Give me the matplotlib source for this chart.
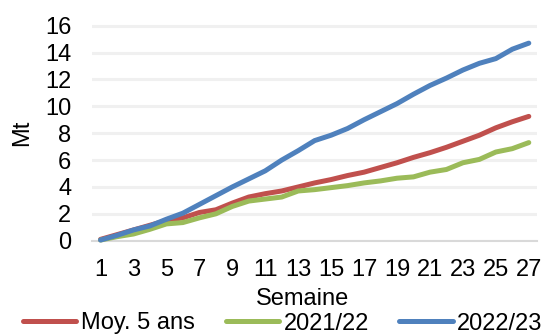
import matplotlib.pyplot as plt

plt.rcParams['font.family'] = ['Liberation Sans', 'DejaVu Sans']

# Cumulative weekly figures (Mt)
weeks = list(range(1, 28))
moy_5_ans = [0.1, 0.45, 0.8, 1.15, 1.5, 1.7, 2.1, 2.3, 2.8, 3.25, 3.5, 3.7,
             4.0, 4.3, 4.55, 4.85, 5.1, 5.45, 5.8, 6.2, 6.55, 6.95, 7.4,
             7.85, 8.4, 8.85, 9.25]
c2021_22 = [0.05, 0.3, 0.5, 0.85, 1.25, 1.35, 1.7, 2.0, 2.55, 2.95, 3.1, 3.25,
            3.7, 3.8, 3.95, 4.1, 4.3, 4.45, 4.65, 4.75, 5.1, 5.3, 5.8, 6.05,
            6.6, 6.85, 7.3]
c2022_23 = [0.05, 0.4, 0.8, 1.1, 1.6, 2.05, 2.7, 3.35, 4.0, 4.6, 5.2, 6.0,
            6.7, 7.45, 7.85, 8.35, 9.0, 9.6, 10.2, 10.9, 11.55, 12.1, 12.7,
            13.2, 13.55, 14.25, 14.7]
labels = ['Moy. 5 ans', '2021/22', '2022/23']
colors = ['#C0504D', '#9BBB59', '#4F81BD']
yticks = [0, 2, 4, 6, 8, 10, 12, 14, 16]

fig = plt.figure(figsize=(5.43, 3.36), dpi=100)
ax = fig.add_axes([0.170, 0.2836, 0.819, 0.652])

for vals, lab, col in zip([moy_5_ans, c2021_22, c2022_23], labels, colors):
    ax.plot(weeks, vals, color=col, lw=3.6, label=lab,
            solid_capstyle='round', solid_joinstyle='round', clip_on=False, zorder=3)

ax.set_xlim(0.5, 27.5)
ax.set_ylim(0, 16.3)
ax.set_yticks(yticks)
ax.set_xticks(weeks[::2])
ax.tick_params(length=0, labelsize=17)
ax.tick_params(axis='y', pad=15)
ax.tick_params(axis='x', pad=13)

ax.grid(axis='y', color='#F0F0F0', lw=2.2)
ax.set_axisbelow(True)
for s in ['top', 'right', 'left']:
    ax.spines[s].set_visible(False)
ax.spines['bottom'].set_color('#D9D9D9')
ax.spines['bottom'].set_linewidth(1.5)

fig.text(22 / 543, 1 - 133 / 336, 'Mt', rotation=90, fontsize=17,
         ha='center', va='center')
fig.text(303 / 543, 1 - 305 / 336, 'Semaine', fontsize=17,
         ha='center', va='baseline')

fig.legend(loc='center', bbox_to_anchor=(0.521, 1 - 323.5 / 336), ncol=3,
           frameon=False, fontsize=17, handlelength=2.25, handletextpad=0.2,
           columnspacing=1.3, borderpad=0, borderaxespad=0)

fig.savefig('out.png', dpi=100)
